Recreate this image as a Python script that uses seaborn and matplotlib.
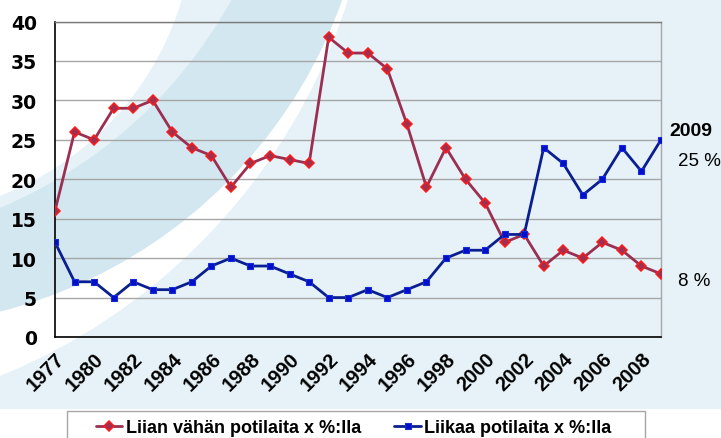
import matplotlib
matplotlib.use("Agg")
import matplotlib.pyplot as plt
import matplotlib.transforms as mtransforms
from matplotlib.patches import Circle, Rectangle
import numpy as np
import pandas as pd
import seaborn as sns

# ---------------- data ----------------
years = ["1977", "1979", "1980", "1981", "1982", "1983", "1984", "1985",
         "1986", "1987", "1988", "1989", "1990", "1991", "1992", "1993",
         "1994", "1995", "1996", "1997", "1998", "1999", "2000", "2001",
         "2002", "2003", "2004", "2005", "2006", "2007", "2008", "2009"]
too_few = [16, 26, 25, 29, 29, 30, 26, 24, 23, 19, 22, 23, 22.5, 22, 38, 36,
           36, 34, 27, 19, 24, 20, 17, 12, 13, 9, 11, 10, 12, 11, 9, 8]
too_many = [12, 7, 7, 5, 7, 6, 6, 7, 9, 10, 9, 9, 8, 7, 5, 5,
            6, 5, 6, 7, 10, 11, 11, 13, 13, 24, 22, 18, 20, 24, 21, 25]
label_few = "Liian vähän potilaita x %:lla"
label_many = "Liikaa potilaita x %:lla"
y_ticks = [0, 5, 10, 15, 20, 25, 30, 35, 40]

df = pd.DataFrame({"pos": np.arange(len(years)), "year": years,
                   "few": too_few, "many": too_many})

sns.set_style("white")
plt.rcParams["font.family"] = ["DejaVu Sans"]
plt.rcParams["text.color"] = "black"

W, H = 721, 439
fig = plt.figure(figsize=(W / 100, H / 100), dpi=100)

# ---------------- decorative background ----------------
LIGHT = "#e6f2f7"
DARK = "#d3e7f0"
bg = fig.add_axes([0, 0, 1, 1], zorder=0)
bg.set_xlim(0, W)
bg.set_ylim(H, 0)
bg.axis("off")
bg.add_patch(Rectangle((0, 0), W, 410, color=LIGHT, lw=0))
bg.add_patch(Circle((-226, -181), 602, color="white", lw=0))
bg.add_patch(Circle((-122, -165), 493, color=DARK, lw=0))
bg.add_patch(Circle((-182.5, -227), 472.5, color=LIGHT, lw=0))
bg.add_patch(Circle((-108.5, -86), 303, color="white", lw=0))
bg.add_patch(Rectangle((0, 410), W, H - 410, color="white", lw=0))

# ---------------- main axes ----------------
L, R, T, B = 55, 661, 22.5, 338
ax = fig.add_axes([L / W, 1 - B / H, (R - L) / W, (B - T) / H], zorder=1)
ax.patch.set_alpha(0)

sns.lineplot(data=df, x="pos", y="few", ax=ax, color="#9b2f52", lw=2.0,
             marker="D", markersize=5.5, markerfacecolor="#a03050",
             markeredgecolor="#ff1a1a", markeredgewidth=1.1,
             label=label_few, zorder=3)
sns.lineplot(data=df, x="pos", y="many", ax=ax, color="#0a1f8f", lw=2.0,
             marker="s", markersize=5.0, markerfacecolor="#0010c8",
             markeredgecolor="#1a2ad8", markeredgewidth=0.8,
             label=label_many, zorder=4)

ax.set_xlim(0, len(years) - 1)
ax.set_ylim(0, 40)
ax.set_xlabel("")
ax.set_ylabel("")

ax.set_yticks(y_ticks)
ax.set_yticklabels([str(v) for v in y_ticks], fontsize=13.5, fontweight="bold",
                   fontfamily="DejaVu Sans")
ax.set_xticks(df["pos"])
ax.set_xticklabels([y if i % 2 == 0 else "" for i, y in enumerate(years)],
                   rotation=45, ha="right", va="top", rotation_mode="anchor",
                   fontsize=14.5, fontweight="bold", fontfamily="Liberation Sans")
offset = mtransforms.ScaledTranslation(-1 / 100, 0, fig.dpi_scale_trans)
for lab in ax.get_xticklabels():
    lab.set_transform(lab.get_transform() + offset)

ax.tick_params(axis="y", length=5, width=1, color="#a0a0a0", pad=8,
               labelcolor="black")
ax.tick_params(axis="x", length=4, width=1, color="#a0a0a0", pad=4.5,
               labelcolor="black")

ax.yaxis.grid(True, color="#a6a6a6", lw=1)
ax.xaxis.grid(False)
ax.set_axisbelow(True)
for side in ["left", "bottom"]:
    ax.spines[side].set_color("black")
    ax.spines[side].set_linewidth(1.2)
ax.spines["top"].set_color("#7a7a7a")
ax.spines["top"].set_linewidth(1.0)
ax.spines["right"].set_color("#a6a6a6")
ax.spines["right"].set_linewidth(1.0)
for s in ax.spines.values():
    s.set_visible(True)

# ---------------- right-side annotations ----------------
fig.text(691 / W, 1 - 131 / H, "2009", ha="center", va="center",
         fontsize=14, fontweight="bold", fontfamily="Liberation Sans",
         color="black")
fig.text(678 / W, 1 - 162 / H, "25 %", ha="left", va="center",
         fontsize=13.5, fontfamily="Liberation Sans", color="black")
fig.text(678 / W, 1 - 281 / H, "8 %", ha="left", va="center",
         fontsize=13.5, fontfamily="Liberation Sans", color="black")

# ---------------- legend ----------------
bg.add_patch(Rectangle((67, 412), 578, 40, facecolor="white",
                       edgecolor="#a6a6a6", lw=1.0, zorder=5))
handles, labels = ax.get_legend_handles_labels()
if ax.get_legend():
    ax.get_legend().remove()
leg = fig.legend(handles, labels, loc="center left",
                 bbox_to_anchor=(96 / W, 1 - 429 / H),
                 bbox_transform=fig.transFigure, ncol=2, frameon=False,
                 borderpad=0, borderaxespad=0, handlelength=1.45,
                 handletextpad=0.2, columnspacing=1.85, numpoints=1,
                 prop={"family": "Liberation Sans", "weight": "bold",
                       "size": 13})
for t in leg.get_texts():
    t.set_color("black")
leg.set_zorder(6)

fig.savefig("out.png", dpi=100)
